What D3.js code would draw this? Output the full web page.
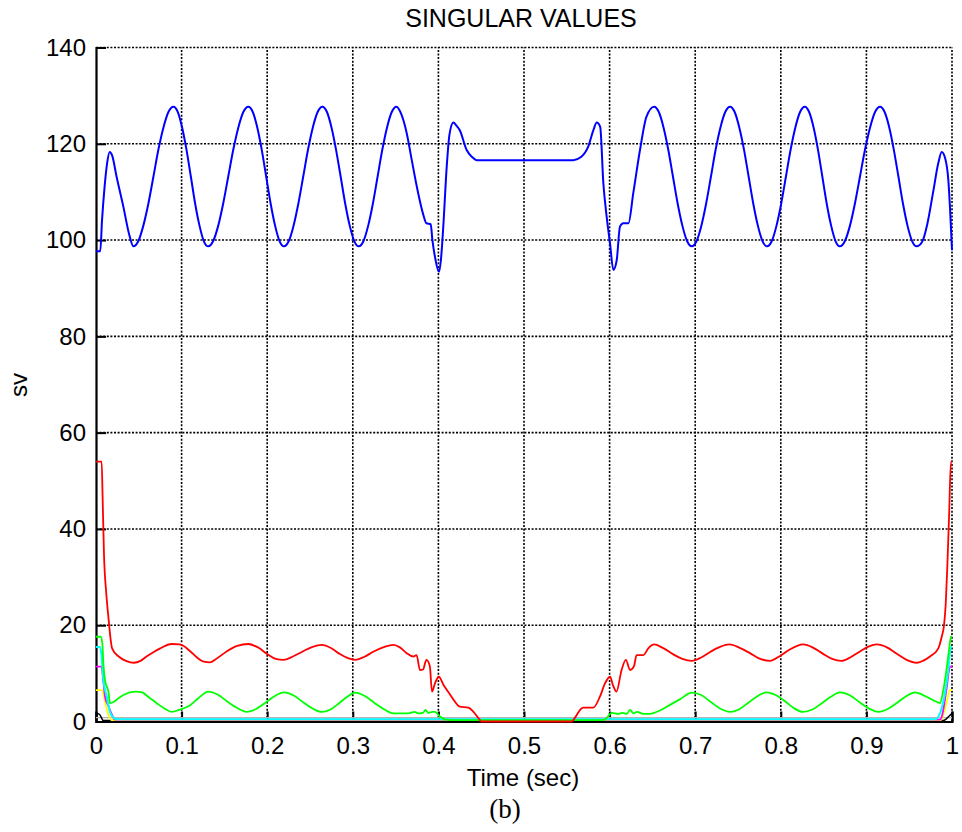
<!DOCTYPE html>
<html>
<head>
<meta charset="utf-8">
<script src="https://cdn.jsdelivr.net/npm/d3@7"></script>
<style>
  body { margin: 0; background: #fff; }
  text { font-family: "Liberation Sans", Arial, sans-serif; fill: #000; }
</style>
</head>
<body>
<div id="chart"></div>
<script>
// values: [time (s), singular value]
const blueSeries = [
  [0, 97.7], [0.005, 97.7], [0.007, 104], [0.010, 111], [0.013, 116], [0.016, 118.3], [0.019, 117.5],
  [0.024, 113.2], [0.032, 106.9], [0.039, 101], [0.0436, 98.7],
  [0.0495, 99.8], [0.0553, 103.0], [0.0612, 107.6], [0.0671, 113.2], [0.0729, 118.8], [0.0788, 123.4], [0.0846, 126.6],
  [0.0905, 127.7],
  [0.0956, 126.6], [0.1006, 123.4], [0.1057, 118.8], [0.1108, 113.2], [0.1158, 107.6], [0.1209, 103.0], [0.1259, 99.8],
  [0.131, 98.7],
  [0.1369, 99.8], [0.1428, 103.0], [0.1486, 107.6], [0.1545, 113.2], [0.1604, 118.8], [0.1663, 123.4], [0.1721, 126.6],
  [0.178, 127.7],
  [0.1832, 126.6], [0.1884, 123.4], [0.1936, 118.8], [0.1988, 113.2], [0.2040, 107.6], [0.2092, 103.0], [0.2144, 99.8],
  [0.2196, 98.7],
  [0.2252, 99.8], [0.2308, 103.0], [0.2364, 107.6], [0.2421, 113.2], [0.2477, 118.8], [0.2533, 123.4], [0.2589, 126.6],
  [0.2645, 127.7],
  [0.2698, 126.6], [0.2751, 123.4], [0.2804, 118.8], [0.2858, 113.2], [0.2911, 107.6], [0.2964, 103.0], [0.3017, 99.8],
  [0.307, 98.7],
  [0.3125, 99.8], [0.318, 103.0], [0.3235, 107.6], [0.329, 113.2], [0.3345, 118.8], [0.340, 123.4], [0.3455, 126.6],
  [0.351, 127.7], [0.357, 126], [0.363, 122.2], [0.369, 116.5], [0.374, 111.8],
  [0.382, 105.5], [0.386, 103.5], [0.391, 103.3], [0.393, 100], [0.396, 96.5], [0.4007, 93.4],
  [0.403, 96], [0.4057, 102.8], [0.4097, 115.2], [0.413, 122], [0.4175, 124.4], [0.421, 123.8],
  [0.425, 122.8], [0.433, 118.7], [0.439, 117.3], [0.445, 116.6], [0.5576, 116.6], [0.567, 117.3],
  [0.575, 119.4], [0.581, 122.8], [0.585, 124.4], [0.589, 123.5], [0.5927, 111.8], [0.5966, 104.8],
  [0.6005, 99.3], [0.6044, 93.8], [0.6083, 95.8], [0.6121, 102.8], [0.616, 103.5], [0.622, 103.5],
  [0.6277, 109.8], [0.6355, 118.7], [0.643, 125.6], [0.652, 127.7],
  [0.6575, 126.6], [0.663, 123.4], [0.6685, 118.8], [0.674, 113.2], [0.6795, 107.6], [0.685, 103.0], [0.6905, 99.8],
  [0.696, 98.7],
  [0.7016, 99.8], [0.7072, 103.0], [0.7128, 107.6], [0.7184, 113.2], [0.7239, 118.8], [0.7295, 123.4], [0.7351, 126.6],
  [0.7407, 127.7],
  [0.7461, 126.6], [0.7515, 123.4], [0.757, 118.8], [0.7624, 113.2], [0.7678, 107.6], [0.7732, 103.0], [0.7786, 99.8],
  [0.784, 98.7],
  [0.7895, 99.8], [0.795, 103.0], [0.8005, 107.6], [0.806, 113.2], [0.8115, 118.8], [0.817, 123.4], [0.8225, 126.6],
  [0.828, 127.7],
  [0.8331, 126.6], [0.8383, 123.4], [0.8434, 118.8], [0.8485, 113.2], [0.8536, 107.6], [0.8588, 103.0], [0.8639, 99.8],
  [0.869, 98.7],
  [0.8749, 99.8], [0.8808, 103.0], [0.8866, 107.6], [0.8925, 113.2], [0.8984, 118.8], [0.9043, 123.4], [0.9101, 126.6],
  [0.916, 127.7],
  [0.9213, 126.6], [0.9267, 123.4], [0.932, 118.8], [0.9374, 113.2], [0.9427, 107.6], [0.948, 103.0], [0.9534, 99.8],
  [0.9587, 98.7], [0.965, 99.6], [0.971, 103.2], [0.978, 110], [0.984, 116],
  [0.988, 118.3], [0.992, 117], [0.9957, 112.5], [0.9977, 106.6], [1.0, 97.9]
];

const redSeries = [
  [0, 54], [0.0066, 54], [0.0078, 46], [0.0093, 34.9], [0.012, 26.6], [0.0148, 21.1], [0.0163, 18.3],
  [0.0188, 15.2], [0.0265, 13.5], [0.035, 12.6], [0.0444, 12.2], [0.052, 12.6], [0.059, 13.5],
  [0.067, 14.4], [0.075, 15.2], [0.0884, 16.1], [0.098, 16.0], [0.11, 14.6], [0.118, 13.3], [0.125, 12.5],
  [0.133, 12.3], [0.142, 13.2], [0.153, 14.6], [0.165, 15.7], [0.178, 16.1], [0.19, 15.3], [0.2, 14.0],
  [0.21, 13.0], [0.219, 12.8], [0.23, 13.5], [0.242, 14.6], [0.253, 15.5], [0.2636, 15.9], [0.275, 15.2],
  [0.285, 14.0], [0.295, 13.1], [0.3026, 12.8], [0.313, 13.4], [0.325, 14.6], [0.337, 15.5],
  [0.3474, 15.9], [0.355, 15.4], [0.363, 14.2], [0.3707, 13.5], [0.3745, 13.8], [0.3785, 10.7],
  [0.382, 10.8], [0.386, 12.8], [0.390, 11.5], [0.3925, 6.2], [0.396, 7.9], [0.4004, 9.3], [0.406, 7.6],
  [0.412, 6.0], [0.4174, 4.6], [0.425, 3.1], [0.435, 2.9], [0.441, 2.0], [0.448, 0.4], [0.45, 0],
  [0.556, 0], [0.5576, 0.3], [0.569, 2.9], [0.581, 2.9], [0.5888, 5.2], [0.5946, 7.9], [0.6005, 9.3],
  [0.604, 7.5], [0.608, 6.2], [0.614, 10.7], [0.619, 12.8], [0.624, 10.7], [0.6285, 11.5], [0.6315, 13.8],
  [0.6395, 13.8], [0.6452, 15.2], [0.652, 16.0], [0.662, 15.3], [0.674, 14.0], [0.685, 13.0], [0.696, 12.6],
  [0.707, 13.3], [0.718, 14.5], [0.729, 15.5], [0.74, 16.0], [0.752, 15.3], [0.764, 14.2], [0.776, 13.0],
  [0.7874, 12.6], [0.799, 13.6], [0.81, 14.9], [0.8263, 16.0], [0.838, 15.3], [0.849, 14.1], [0.86, 13.0],
  [0.871, 12.6], [0.882, 13.4], [0.893, 14.6], [0.903, 15.6], [0.912, 16.0], [0.924, 15.4], [0.936, 14.0],
  [0.947, 12.8], [0.9587, 12.2], [0.966, 12.6], [0.9743, 13.5], [0.984, 15.2], [0.988, 17.6],
  [0.9907, 20], [0.9927, 24.5], [0.9945, 32.1], [0.9965, 42.2], [0.9988, 54], [1, 54]
];

const greenSeries = [
  [0, 17.6], [0.0055, 17.6], [0.0074, 16.2], [0.0086, 12.1], [0.0105, 8.6], [0.0148, 5.9], [0.0163, 3.8],
  [0.02, 4.0], [0.026, 4.8], [0.032, 5.5], [0.046, 6.2], [0.053, 6.1], [0.062, 5.0], [0.071, 3.8],
  [0.08, 2.7], [0.0884, 2.0], [0.097, 2.4], [0.11, 3.4], [0.12, 4.9], [0.131, 6.2], [0.142, 5.6],
  [0.153, 4.2], [0.165, 2.8], [0.176, 2.0], [0.187, 2.6], [0.198, 3.9], [0.209, 5.3], [0.2196, 6.06],
  [0.231, 5.4], [0.242, 4.0], [0.253, 2.7], [0.2636, 2.0], [0.274, 2.5], [0.284, 3.8], [0.294, 5.2],
  [0.3026, 6.0], [0.314, 5.3], [0.325, 3.9], [0.336, 2.6], [0.3474, 1.7], [0.365, 1.7], [0.372, 2.0],
  [0.377, 1.7], [0.382, 1.8], [0.385, 2.4], [0.388, 1.8], [0.393, 2.0], [0.396, 2.0], [0.402, 1.0],
  [0.408, 0.4], [0.415, 0.3], [0.59, 0.3], [0.5946, 0.4], [0.6025, 1.8], [0.61, 1.6], [0.615, 1.8],
  [0.62, 1.6], [0.624, 2.4], [0.628, 1.7], [0.632, 2.0], [0.6395, 1.6], [0.647, 1.6], [0.652, 1.8],
  [0.66, 2.4], [0.67, 3.4], [0.682, 4.6], [0.696, 6.0], [0.707, 5.5], [0.718, 4.1], [0.729, 2.7],
  [0.7407, 2.0], [0.751, 2.5], [0.762, 3.9], [0.773, 5.3], [0.7835, 6.06], [0.794, 5.5], [0.805, 4.2],
  [0.815, 2.8], [0.826, 2.0], [0.837, 2.5], [0.848, 3.8], [0.859, 5.2], [0.869, 6.06], [0.881, 5.4],
  [0.892, 4.0], [0.903, 2.7], [0.914, 2.0], [0.925, 2.6], [0.936, 3.9], [0.947, 5.3], [0.9567, 6.06],
  [0.965, 5.6], [0.974, 4.8], [0.982, 4.1], [0.986, 3.8], [0.9895, 6.2], [0.993, 10], [0.9965, 14.8],
  [0.9988, 17.6], [1, 17.6]
];

const cyanSeries = [
  [0, 15.5], [0.0047, 15.5], [0.0065, 13.5], [0.0086, 8.6], [0.0125, 5.2], [0.0163, 2.0], [0.02, 0.9],
  [0.024, 0.45], [0.2, 0.45], [0.4, 0.45], [0.6, 0.45], [0.8, 0.45], [0.98, 0.45], [0.984, 1.0],
  [0.9918, 5.9], [0.9957, 10.7], [0.9988, 15.5], [1, 15.5]
];

const magentaSeries = [
  [0, 11.4], [0.0066, 11.4], [0.0078, 9.7], [0.0105, 5.2], [0.0148, 3.1], [0.0188, 1.35], [0.022, 0.4],
  [0.5, 0.4], [0.986, 0.4], [0.988, 1.0], [0.9934, 6.5], [0.9977, 11.4], [1, 11.4]
];

const yellowSeries = [
  [0, 6.5], [0.0066, 6.5], [0.0093, 5.2], [0.0117, 3.1], [0.0145, 1.35], [0.018, 0.3], [0.5, 0.3],
  [0.987, 0.3], [0.9895, 1.2], [0.9934, 3.8], [0.9977, 6.5], [1, 6.5]
];

const blackSeries = [
  [0, 1.7], [0.004, 1.5], [0.0086, 0.2], [0.5, 0.2], [0.99, 0.2], [0.997, 1.2], [1, 1.7]
];

const graySeries = [
  [0, 0.8], [0.5, 0.8], [1, 0.8]
];

const xTicks = [0, 0.1, 0.2, 0.3, 0.4, 0.5, 0.6, 0.7, 0.8, 0.9, 1];
const yTicks = [0, 20, 40, 60, 80, 100, 120, 140];

const series = [
  { name: 'gray', data: graySeries, color: '#b4b4b4', w: 1.2 },
  { name: 'black', data: blackSeries, color: '#000000', w: 1.5 },
  { name: 'yellow', data: yellowSeries, color: '#ffff00', w: 1.8 },
  { name: 'magenta', data: magentaSeries, color: '#ff00ff', w: 1.8 },
  { name: 'cyan', data: cyanSeries, color: '#00ffff', w: 2 },
  { name: 'green', data: greenSeries, color: '#00ff00', w: 1.8 },
  { name: 'red', data: redSeries, color: '#ff0000', w: 1.8 },
  { name: 'blue', data: blueSeries, color: '#0000ff', w: 2 }
];

const width = 962, height = 832;
const margin = { top: 47.5, left: 96, right: 10, bottom: 110.5 };

const svg = d3.select('#chart').append('svg')
    .attr('width', width)
    .attr('height', height);

const xScale = d3.scaleLinear().domain([0, 1]).range([margin.left, width - margin.right]);
const yScale = d3.scaleLinear().domain([0, 140]).range([height - margin.bottom, margin.top]);

// dotted grid
const grid = svg.append('g');
grid.selectAll('.vgrid').data(xTicks.slice(1))
  .enter().append('line')
    .attr('x1', d => xScale(d)).attr('x2', d => xScale(d))
    .attr('y1', yScale(0)).attr('y2', yScale(140))
    .attr('stroke', '#000').attr('stroke-width', 1.6).attr('stroke-dasharray', '2,1.6');
grid.selectAll('.hgrid').data(yTicks.slice(1))
  .enter().append('line')
    .attr('x1', xScale(0)).attr('x2', xScale(1))
    .attr('y1', d => yScale(d)).attr('y2', d => yScale(d))
    .attr('stroke', '#000').attr('stroke-width', 1.6).attr('stroke-dasharray', '2,1.6');

// axes, ticks pointing inward
const xAxis = svg.append('g')
    .attr('transform', 'translate(0,' + yScale(0) + ')')
    .call(d3.axisBottom(xScale).tickValues(xTicks).tickSize(-10).tickPadding(15)
      .tickFormat(d => d === 0 || d === 1 ? d3.format('d')(d) : d3.format('.1f')(d)));
const yAxis = svg.append('g')
    .attr('transform', 'translate(' + xScale(0) + ',0)')
    .call(d3.axisLeft(yScale).tickValues(yTicks).tickSize(-10).tickPadding(10));

[xAxis, yAxis].forEach(a => {
  a.select('.domain').attr('stroke', '#000').attr('stroke-width', 2.2);
  a.selectAll('.tick line').attr('stroke', '#000').attr('stroke-width', 2);
  a.selectAll('.tick text').style('font-size', '24px').style('font-family', '"Liberation Sans", Arial, sans-serif');
});

// data lines
const line = d3.line()
    .x(d => xScale(d[0]))
    .y(d => yScale(d[1]))
    .curve(d3.curveMonotoneX);

svg.append('g').selectAll('path').data(series)
  .enter().append('path')
    .attr('d', d => line(d.data))
    .attr('fill', 'none')
    .attr('stroke', d => d.color)
    .attr('stroke-width', d => d.w)
    .attr('stroke-linejoin', 'round');

// labels
svg.append('text')
    .attr('x', 521).attr('y', 27)
    .attr('text-anchor', 'middle')
    .style('font-size', '25px')
    .text('SINGULAR VALUES');

svg.append('text')
    .attr('x', 523).attr('y', 786)
    .attr('text-anchor', 'middle')
    .style('font-size', '24px')
    .text('Time (sec)');

svg.append('text')
    .attr('transform', 'translate(27,385) rotate(-90)')
    .attr('text-anchor', 'middle')
    .style('font-size', '24px')
    .text('sv');

svg.append('text')
    .attr('x', 505).attr('y', 818)
    .attr('text-anchor', 'middle')
    .style('font-family', '"Liberation Serif", "Times New Roman", serif')
    .style('font-size', '27px')
    .text('(b)');
</script>
</body>
</html>
